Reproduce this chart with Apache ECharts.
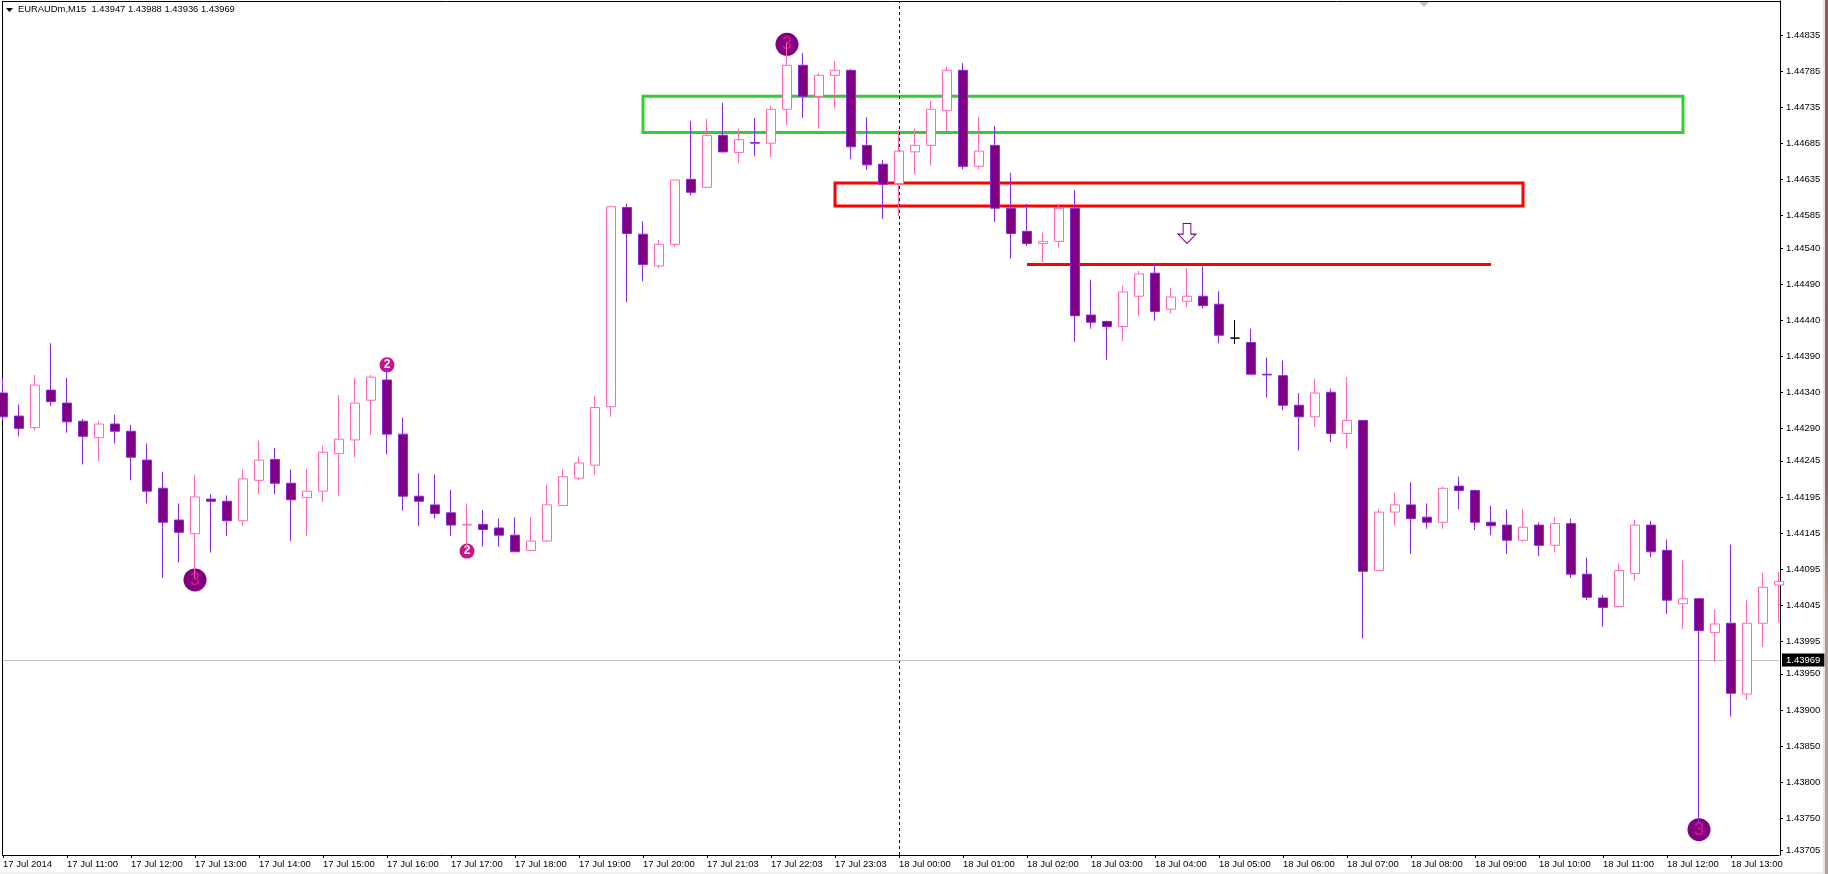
<!DOCTYPE html>
<html>
<head>
<meta charset="utf-8">
<title>EURAUDm,M15</title>
<script src="https://cdn.jsdelivr.net/npm/echarts@6/dist/echarts.min.js"></script>
<style>
  html, body { margin: 0; padding: 0; background: #fff; overflow: hidden; }
  #chart { width: 1828px; height: 874px; }
</style>
</head>
<body>
<div id="chart"></div>
<script>
// hourly labels, one every 4 bars (M15)
var hourLabels = ['17 Jul 2014', '17 Jul 11:00', '17 Jul 12:00', '17 Jul 13:00', '17 Jul 14:00', '17 Jul 15:00', '17 Jul 16:00',
  '17 Jul 17:00', '17 Jul 18:00', '17 Jul 19:00', '17 Jul 20:00', '17 Jul 21:03', '17 Jul 22:03', '17 Jul 23:03',
  '18 Jul 00:00', '18 Jul 01:00', '18 Jul 02:00', '18 Jul 03:00', '18 Jul 04:00', '18 Jul 05:00', '18 Jul 06:00',
  '18 Jul 07:00', '18 Jul 08:00', '18 Jul 09:00', '18 Jul 10:00', '18 Jul 11:00', '18 Jul 12:00', '18 Jul 13:00'];

var priceTicks = [1.44835, 1.44785, 1.44735, 1.44685, 1.44635, 1.44585, 1.44540, 1.44490, 1.44440, 1.44390, 1.44340, 1.44290,
  1.44245, 1.44195, 1.44145, 1.44095, 1.44045, 1.43995, 1.43950, 1.43900, 1.43850, 1.43800, 1.43750, 1.43705];

var opens = [
  1.44339, 1.44307, 1.44291, 1.44343, 1.44325, 1.44300, 1.44277, 1.44296, 1.44286, 1.44246,
  1.44207, 1.44163, 1.44144, 1.44192, 1.44189, 1.44162, 1.44218, 1.44247, 1.44214, 1.44194,
  1.44203, 1.44255, 1.44274, 1.44329, 1.44357, 1.44282, 1.44196, 1.44184, 1.44173, 1.44156,
  1.44157, 1.44152, 1.44142, 1.44121, 1.44134, 1.44183, 1.44221, 1.44239, 1.44320, 1.44596,
  1.44559, 1.44515, 1.44545, 1.44635, 1.44624, 1.44696, 1.44672, 1.44686, 1.44685, 1.44732,
  1.44793, 1.44750, 1.44779, 1.44786, 1.44682, 1.44656, 1.44629, 1.44673, 1.44682, 1.44730,
  1.44786, 1.44653, 1.44682, 1.44595, 1.44563, 1.44546, 1.44549, 1.44595, 1.44447, 1.44438,
  1.44431, 1.44473, 1.44505, 1.44455, 1.44466, 1.44473, 1.44462, 1.44415, 1.44409, 1.44365,
  1.44363, 1.44322, 1.44306, 1.44340, 1.44283, 1.44301, 1.44093, 1.44174, 1.44184, 1.44167,
  1.44160, 1.44210, 1.44204, 1.44160, 1.44156, 1.44135, 1.44156, 1.44128, 1.44158, 1.44088,
  1.44055, 1.44043, 1.44089, 1.44156, 1.44121, 1.44047, 1.44054, 1.44007, 1.44020, 1.43922,
  1.44020, 1.44073];
var closes = [
  1.44306, 1.44290, 1.44350, 1.44327, 1.44299, 1.44279, 1.44296, 1.44286, 1.44250, 1.44203,
  1.44160, 1.44146, 1.44195, 1.44189, 1.44162, 1.44220, 1.44246, 1.44214, 1.44191, 1.44203,
  1.44257, 1.44275, 1.44325, 1.44361, 1.44282, 1.44196, 1.44189, 1.44172, 1.44156, 1.44157,
  1.44150, 1.44142, 1.44119, 1.44134, 1.44184, 1.44223, 1.44242, 1.44319, 1.44597, 1.44560,
  1.44517, 1.44545, 1.44634, 1.44617, 1.44696, 1.44673, 1.44690, 1.44685, 1.44732, 1.44793,
  1.44750, 1.44779, 1.44786, 1.44680, 1.44655, 1.44628, 1.44674, 1.44682, 1.44732, 1.44786,
  1.44653, 1.44674, 1.44595, 1.44560, 1.44546, 1.44549, 1.44595, 1.44446, 1.44437, 1.44431,
  1.44479, 1.44504, 1.44452, 1.44472, 1.44473, 1.44460, 1.44419, 1.44415, 1.44365, 1.44364,
  1.44322, 1.44306, 1.44339, 1.44283, 1.44301, 1.44092, 1.44174, 1.44184, 1.44165, 1.44160,
  1.44207, 1.44204, 1.44160, 1.44155, 1.44135, 1.44153, 1.44128, 1.44158, 1.44088, 1.44056,
  1.44042, 1.44093, 1.44156, 1.44119, 1.44052, 1.44054, 1.44010, 1.44019, 1.43923, 1.44020,
  1.44070, 1.44078];
var lows = [
  1.44301, 1.44279, 1.44287, 1.44321, 1.44284, 1.44240, 1.44245, 1.44269, 1.44218, 1.44186,
  1.44083, 1.44104, 1.44083, 1.44118, 1.44141, 1.44155, 1.44199, 1.44199, 1.44134, 1.44141,
  1.44188, 1.44197, 1.44250, 1.44281, 1.44254, 1.44176, 1.44155, 1.44165, 1.44141, 1.44122,
  1.44126, 1.44126, 1.44119, 1.44120, 1.44133, 1.44183, 1.44218, 1.44226, 1.44306, 1.44465,
  1.44494, 1.44512, 1.44541, 1.44613, 1.44623, 1.44672, 1.44658, 1.44667, 1.44666, 1.44710,
  1.44720, 1.44705, 1.44733, 1.44663, 1.44648, 1.44580, 1.44584, 1.44642, 1.44654, 1.44702,
  1.44649, 1.44649, 1.44576, 1.44525, 1.44543, 1.44518, 1.44540, 1.44410, 1.44428, 1.44385,
  1.44411, 1.44445, 1.44439, 1.44449, 1.44458, 1.44456, 1.44408, 1.44407, 1.44364, 1.44333,
  1.44315, 1.44259, 1.44292, 1.44271, 1.44262, 1.43999, 1.44093, 1.44155, 1.44116, 1.44151,
  1.44151, 1.44178, 1.44149, 1.44142, 1.44116, 1.44133, 1.44113, 1.44118, 1.44083, 1.44052,
  1.44015, 1.44043, 1.44079, 1.44112, 1.44033, 1.44012, 1.43741, 1.43966, 1.43891, 1.43914,
  1.43987, 1.44021];
var highs = [
  1.44360, 1.44323, 1.44364, 1.44408, 1.44360, 1.44303, 1.44300, 1.44309, 1.44295, 1.44269,
  1.44230, 1.44186, 1.44226, 1.44199, 1.44197, 1.44233, 1.44273, 1.44263, 1.44233, 1.44234,
  1.44266, 1.44336, 1.44360, 1.44364, 1.44374, 1.44305, 1.44228, 1.44226, 1.44205, 1.44186,
  1.44177, 1.44165, 1.44167, 1.44167, 1.44212, 1.44233, 1.44251, 1.44335, 1.44597, 1.44601,
  1.44577, 1.44551, 1.44634, 1.44716, 1.44719, 1.44741, 1.44705, 1.44720, 1.44737, 1.44824,
  1.44810, 1.44782, 1.44799, 1.44788, 1.44721, 1.44662, 1.44703, 1.44705, 1.44744, 1.44791,
  1.44796, 1.44721, 1.44709, 1.44644, 1.44601, 1.44561, 1.44601, 1.44620, 1.44496, 1.44439,
  1.44487, 1.44508, 1.44519, 1.44485, 1.44512, 1.44514, 1.44480, 1.44440, 1.44428, 1.44388,
  1.44384, 1.44339, 1.44359, 1.44345, 1.44361, 1.44302, 1.44178, 1.44201, 1.44215, 1.44186,
  1.44209, 1.44223, 1.44205, 1.44183, 1.44178, 1.44178, 1.44160, 1.44167, 1.44165, 1.44111,
  1.44059, 1.44103, 1.44163, 1.44162, 1.44136, 1.44107, 1.44055, 1.44039, 1.44129, 1.44052,
  1.44090, 1.44091];

// numbered pattern markers [bar, price, number]
var smallMarks = [[24, 1.44378, '2'], [29, 1.44120, '2']];
var bigMarks = [[12, 1.44080, '3'], [49, 1.44822, '3'], [106, 1.43734, '3']];
var sellArrow = [[74, 1.44560]];

var lastPrice = 1.43969;
var separatorBar = 56;
var greenBox = { from: 40, to: 105, top: 1.44750, bottom: 1.44700 };
var redBox = { from: 52, to: 95, top: 1.44630, bottom: 1.44598 };
var redLine = { from: 64, to: 93, price: 1.44518 };

var font = 'Liberation Sans';
var fontSize = 9.5;

var categories = opens.map(function (v, i) {
  return i % 4 === 0 ? hourLabels[i / 4] : '';
});
var candles = opens.map(function (v, i) {
  return [opens[i], closes[i], lows[i], highs[i]];
});

var option = {
  animation: false,
  backgroundColor: '#fff',
  title: {
    text: 'EURAUDm,M15  1.43947 1.43988 1.43936 1.43969',
    left: 18,
    top: 5,
    padding: 0,
    textStyle: { color: '#000', fontFamily: font, fontSize: 9.4, fontWeight: 'normal' }
  },
  grid: { left: 3, top: 1, width: 1776, height: 854 },
  xAxis: {
    type: 'category',
    boundaryGap: false,
    data: categories,
    axisLine: { lineStyle: { color: '#000', width: 1 } },
    axisTick: { interval: 3, length: 3, lineStyle: { color: '#000' } },
    axisLabel: {
      interval: 3,
      align: 'left',
      margin: 4,
      color: '#000',
      fontFamily: font,
      fontSize: fontSize,
      hideOverlap: false
    },
    splitLine: { show: false }
  },
  yAxis: {
    type: 'value',
    position: 'right',
    offset: 1,
    min: 1.43699,
    max: 1.44882,
    axisLine: { show: true, lineStyle: { color: '#000', width: 1 } },
    axisTick: { show: true, length: 3, customValues: priceTicks, lineStyle: { color: '#000' } },
    axisLabel: {
      customValues: priceTicks,
      margin: 6,
      color: '#000',
      fontFamily: font,
      fontSize: fontSize,
      formatter: function (v) { return v.toFixed(5); }
    },
    splitLine: { show: false }
  },
  series: [
    {
      name: 'EURAUDm',
      type: 'candlestick',
      z: 2,
      barWidth: 10,
      data: candles,
      itemStyle: {
        color: '#ffffff',
        color0: '#800080',
        borderColor: '#FF69B4',
        borderColor0: '#8A2BE2',
        borderColorDoji: '#000000',
        borderWidth: 1
      },
      markArea: {
        silent: true,
        z: 1,
        data: [
          [{ coord: [greenBox.from, greenBox.top], itemStyle: { color: 'transparent', borderColor: '#32CD32', borderWidth: 3 } },
            { coord: [greenBox.to, greenBox.bottom] }],
          [{ coord: [redBox.from, redBox.top], itemStyle: { color: 'transparent', borderColor: '#FF0000', borderWidth: 3 } },
            { coord: [redBox.to, redBox.bottom] }]
        ]
      },
      markLine: {
        silent: true,
        z: 1,
        symbol: 'none',
        precision: 5,
        label: { show: false },
        data: [
          [{ coord: [redLine.from, redLine.price], lineStyle: { color: '#FF0000', width: 3, type: 'solid' } },
            { coord: [redLine.to, redLine.price] }],
          {
            xAxis: separatorBar,
            lineStyle: { color: '#000', width: 1, type: [3, 3] }
          },
          {
            yAxis: lastPrice,
            lineStyle: { color: '#C0C0C0', width: 1, type: 'solid' },
            label: {
              show: true,
              position: 'end',
              distance: 3,
              formatter: lastPrice.toFixed(5),
              color: '#fff',
              backgroundColor: '#000',
              padding: [2, 4, 1, 4],
              fontFamily: font,
              fontSize: fontSize
            }
          }
        ]
      }
    },
    {
      name: 'pattern 2',
      type: 'scatter',
      z: 1,
      symbolSize: 15,
      data: smallMarks,
      itemStyle: { color: '#C71585', opacity: 1 },
      label: {
        show: true,
        position: 'inside',
        formatter: function (p) { return p.value[2]; },
        color: '#fff',
        fontFamily: font,
        fontSize: 12,
        fontWeight: 'bold'
      }
    },
    {
      name: 'pattern 3',
      type: 'scatter',
      z: 1,
      symbolSize: 23,
      data: bigMarks,
      itemStyle: { color: '#800080', opacity: 1 },
      label: {
        show: true,
        position: 'inside',
        formatter: function (p) { return p.value[2]; },
        color: '#D81B8C',
        fontFamily: font,
        fontSize: 18
      }
    },
    {
      name: 'sell arrow',
      type: 'scatter',
      z: 3,
      symbol: 'path://M4 0H10V8H14L7 15L0 8H4Z',
      symbolSize: [18, 20],
      data: sellArrow,
      itemStyle: { color: '#fff', borderColor: '#800080', borderWidth: 1, opacity: 1 }
    }
  ],
  graphic: [
    // terminal window frame
    { type: 'line', silent: true, shape: { x1: 2.5, y1: 1, x2: 2.5, y2: 856 }, style: { stroke: '#000', lineWidth: 1 } },
    { type: 'line', silent: true, shape: { x1: 2, y1: 1.5, x2: 1781, y2: 1.5 }, style: { stroke: '#000', lineWidth: 1 } },
    { type: 'polygon', silent: true, shape: { points: [[6, 8], [13, 8], [9.5, 12]] }, style: { fill: '#000' } },
    { type: 'polygon', silent: true, shape: { points: [[1419, 2], [1429, 2], [1424, 7]] }, style: { fill: '#C0C0C0' } },
    { type: 'rect', silent: true, shape: { x: 0, y: 872, width: 1828, height: 2 }, style: { fill: '#F0F0F0' } },
    { type: 'rect', silent: true, shape: { x: 1823, y: 0, width: 2, height: 874 }, style: { fill: '#E6E6E6' } },
    {
      type: 'rect',
      silent: true,
      shape: { x: 1825, y: 0, width: 3, height: 874 },
      style: {
        fill: new echarts.graphic.LinearGradient(0, 0, 0, 1, [
          { offset: 0, color: '#A8524E' },
          { offset: 0.55, color: '#A05A58' },
          { offset: 0.7, color: '#B89494' },
          { offset: 1, color: '#BC9C9C' }
        ])
      }
    }
  ]
};

var chart = echarts.init(document.getElementById('chart'));
chart.setOption(option);
</script>
</body>
</html>
